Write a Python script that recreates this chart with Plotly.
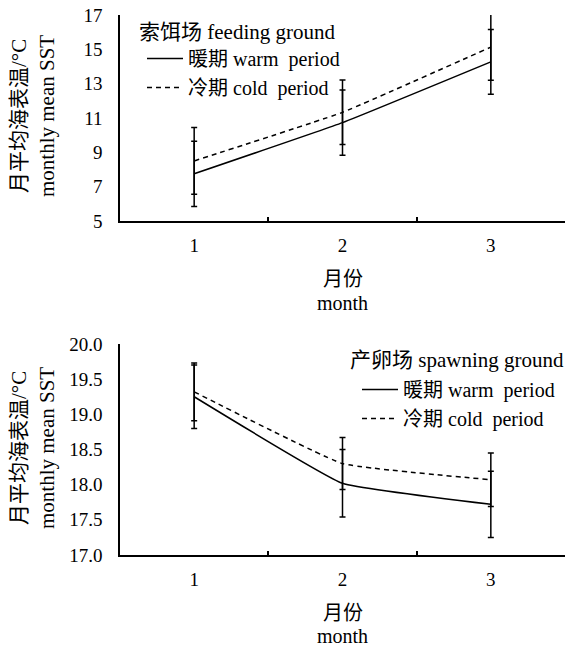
import plotly.graph_objects as go

months = ["1", "2", "3"]

# feeding ground (top)
feed_warm = [7.75, 10.73, 14.27]
feed_warm_err = [1.90, 1.90, 1.88]
feed_cold = [8.50, 11.33, 15.13]
feed_cold_err = [1.94, 1.88, 1.93]

# spawning ground (bottom)
spawn_warm = [19.25, 18.02, 17.72]
spawn_warm_err = [0.45, 0.48, 0.47]
spawn_cold = [19.32, 18.30, 18.07]
spawn_cold_err = [0.41, 0.37, 0.38]

W, H = 568, 646
FONT = '"Liberation Serif", "Noto Sans CJK SC", serif'
FS = 19
LFS = 20
TFS = 20

def py(px):
    return 1 - px / H

def px_x(px):
    return px / W

fig = go.Figure()

def add_pair(warm, werr, cold, cerr, xa, ya, legend):
    fig.add_trace(go.Scatter(
        x=months, y=warm, xaxis=xa, yaxis=ya, legend=legend,
        name="暖期 warm\u00a0 period", mode="lines",
        line=dict(color="black", width=1.5, shape="spline", smoothing=0.3),
        error_y=dict(type="data", array=werr, visible=True, color="black", thickness=1.5, width=3),
    ))
    fig.add_trace(go.Scatter(
        x=months, y=cold, xaxis=xa, yaxis=ya, legend=legend,
        name="冷期 cold\u00a0 period", mode="lines",
        line=dict(color="black", width=1.5, dash="5px,4px", shape="spline", smoothing=0.3),
        error_y=dict(type="data", array=cerr, visible=True, color="black", thickness=1.5, width=3),
    ))

add_pair(feed_warm, feed_warm_err, feed_cold, feed_cold_err, "x", "y", "legend")
add_pair(spawn_warm, spawn_warm_err, spawn_cold, spawn_cold_err, "x2", "y2", "legend2")

xdom = [px_x(120), px_x(565)]
axis_common = dict(showline=True, linecolor="black", linewidth=1.5, showgrid=False,
                   zeroline=False, tickfont=dict(family=FONT, size=FS, color="black"),
                   automargin=False)

fig.update_layout(
    width=W, height=H,
    margin=dict(l=0, r=0, t=0, b=0),
    paper_bgcolor="white", plot_bgcolor="white",
    font=dict(family=FONT, size=FS, color="black"),
    xaxis=dict(domain=xdom, anchor="y", type="category", tickson="boundaries", range=[-0.5, 2.5],
               ticks="inside", ticklen=4, tickcolor="black", tickwidth=1.5,
               ticklabelstandoff=6, **axis_common),
    yaxis=dict(domain=[py(221), py(15)], anchor="x", range=[5, 17], tickvals=[5, 7, 9, 11, 13, 15, 17],
               ticks="", ticklabelstandoff=12, **axis_common),
    xaxis2=dict(domain=xdom, anchor="y2", type="category", tickson="boundaries", range=[-0.5, 2.5],
                ticks="inside", ticklen=4, tickcolor="black", tickwidth=1.5,
                ticklabelstandoff=6, **axis_common),
    yaxis2=dict(domain=[py(555), py(344)], anchor="x2", range=[17, 20],
                tickvals=[17, 17.5, 18, 18.5, 19, 19.5, 20], tickformat=".1f",
                ticks="", ticklabelstandoff=12, **axis_common),
    legend=dict(x=px_x(142), y=py(39), xanchor="left", yanchor="top",
                bgcolor="rgba(0,0,0,0)", font=dict(family=FONT, size=LFS),
                tracegroupgap=0, itemwidth=36),
    legend2=dict(x=px_x(357), y=py(370), xanchor="left", yanchor="top",
                 bgcolor="rgba(0,0,0,0)", font=dict(family=FONT, size=LFS),
                 tracegroupgap=0, itemwidth=36),
    showlegend=True,
)

ann = []
# legend titles
ann.append(dict(text="索饵场 feeding ground", x=px_x(137), y=py(32), xref="paper", yref="paper",
                showarrow=False, xanchor="left", yanchor="middle", font=dict(family=FONT, size=21)))
ann.append(dict(text="产卵场 spawning ground", x=px_x(566), y=py(360), xref="paper", yref="paper",
                showarrow=False, xanchor="right", yanchor="middle", font=dict(family=FONT, size=21)))
for (cy, l1x, l2x) in [(116, 19, 47), (448, 19, 47)]:
    ann.append(dict(text="月平均海表温/°C", x=px_x(l1x), y=py(cy), xref="paper", yref="paper",
                    textangle=-90, showarrow=False, xanchor="center", yanchor="middle",
                    font=dict(family=FONT, size=21)))
    ann.append(dict(text="monthly mean SST", x=px_x(l2x), y=py(cy), xref="paper", yref="paper",
                    textangle=-90, showarrow=False, xanchor="center", yanchor="middle",
                    font=dict(family=FONT, size=21)))
for (y1, y2) in [(279, 303), (613, 636)]:
    ann.append(dict(text="月份", x=px_x(342.5), y=py(y1), xref="paper", yref="paper",
                    showarrow=False, xanchor="center", yanchor="middle", font=dict(family=FONT, size=TFS)))
    ann.append(dict(text="month", x=px_x(342.5), y=py(y2), xref="paper", yref="paper",
                    showarrow=False, xanchor="center", yanchor="middle", font=dict(family=FONT, size=TFS)))
fig.update_layout(annotations=ann)

fig.write_html("out.html", config={"displayModeBar": False},
               post_script="document.body.style.margin='0';document.body.style.padding='0';document.body.style.overflow='hidden';")
